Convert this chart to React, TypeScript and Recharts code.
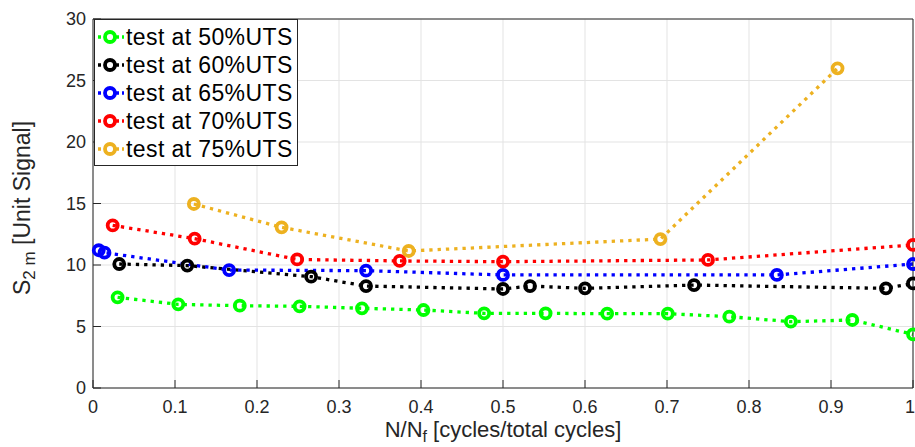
import React from 'react'
import {
  LineChart,
  Line,
  XAxis,
  YAxis,
  CartesianGrid,
  Legend,
  Label,
} from 'recharts'

// normalised life N/Nf and signal values
const x50 = [0.03, 0.104, 0.179, 0.252, 0.328, 0.403, 0.477, 0.552, 0.627, 0.701, 0.776, 0.851, 0.926, 1.0]
const y50 = [7.37, 6.8, 6.69, 6.64, 6.48, 6.34, 6.07, 6.07, 6.04, 6.04, 5.8, 5.39, 5.53, 4.36]

const x60 = [0.032, 0.115, 0.266, 0.333, 0.5, 0.533, 0.6, 0.733, 0.967, 1.0]
const y60 = [10.08, 9.95, 9.05, 8.29, 8.05, 8.29, 8.1, 8.37, 8.1, 8.5]

const x65 = [0.007, 0.014, 0.166, 0.333, 0.5, 0.834, 1.0]
const y65 = [11.2, 11.0, 9.59, 9.54, 9.19, 9.19, 10.08]

const x70 = [0.024, 0.124, 0.249, 0.374, 0.5, 0.75, 1.0]
const y70 = [13.22, 12.14, 10.45, 10.33, 10.27, 10.41, 11.63]

const x75 = [0.123, 0.23, 0.385, 0.692, 0.908]
const y75 = [14.96, 13.06, 11.14, 12.11, 25.99]

const xTicks = [0, 0.1, 0.2, 0.3, 0.4, 0.5, 0.6, 0.7, 0.8, 0.9, 1]
const yTicks = [0, 5, 10, 15, 20, 25, 30]

const toPoints = (xs: number[], ys: number[]) => xs.map((x, i) => ({ x, y: ys[i] }))

const series = [
  { name: 'test at 50%UTS', color: '#00ff00', data: toPoints(x50, y50) },
  { name: 'test at 60%UTS', color: '#000000', data: toPoints(x60, y60) },
  { name: 'test at 65%UTS', color: '#0000ff', data: toPoints(x65, y65) },
  { name: 'test at 70%UTS', color: '#ff0000', data: toPoints(x70, y70) },
  { name: 'test at 75%UTS', color: '#edb120', data: toPoints(x75, y75) },
]

const FONT = '"Liberation Sans", Arial, Helvetica, sans-serif'
const AXIS = '#262626'
const DASH = '3.3 5'

const makeDot = (color: string) => (props: any) => {
  const { cx, cy, index } = props
  if (cx == null || cy == null) return <g key={index} />
  return (
    <circle key={index} cx={cx} cy={cy} r={5} fill="none" stroke={color} strokeWidth={3.8} />
  )
}

const renderLegend = () => (
  <div
    style={{
      border: `1px solid ${AXIS}`,
      background: '#fff',
      width: 202,
      padding: '3px 0 2px 0',
      fontFamily: FONT,
    }}
  >
    {series.map((s) => (
      <div key={s.name} style={{ display: 'flex', alignItems: 'center', height: 28 }}>
        <svg width={30} height={28} style={{ marginLeft: 1 }}>
          <line x1={2} y1={14} x2={28} y2={14} stroke={s.color} strokeWidth={3.3} strokeDasharray="3 3" />
          <circle cx={14} cy={14} r={5} fill="#fff" stroke={s.color} strokeWidth={3.8} />
        </svg>
        <span
          style={{ fontSize: 23, color: '#000', lineHeight: '28px', whiteSpace: 'nowrap', letterSpacing: 0.4 }}
        >
          {s.name}
        </span>
      </div>
    ))}
  </div>
)

const XTick = (props: any) => {
  const { x, y, payload } = props
  const last = payload.value === 1
  return (
    <text
      x={last ? x - 3 : x}
      y={y}
      dy="0.71em"
      textAnchor="middle"
      fill={AXIS}
      fontSize={18}
      fontFamily={FONT}
    >
      {`${payload.value}`}
    </text>
  )
}

const XTitle = () => (
  <text x={503} y={437} textAnchor="middle" fill={AXIS} fontSize={22} fontFamily={FONT}>
    N/N
    <tspan fontSize={16} dy={5}>f</tspan>
    <tspan dy={-5}> [cycles/total cycles]</tspan>
  </text>
)

const YTitle = () => (
  <text
    x={21.5}
    y={208}
    transform="rotate(-90, 21.5, 208)"
    textAnchor="middle"
    dominantBaseline="central"
    fill={AXIS}
    fontSize={23}
    fontFamily={FONT}
  >
    S
    <tspan fontSize={17} dy={7}>2 m</tspan>
    <tspan dy={-7}> [Unit Signal]</tspan>
  </text>
)

export default function App() {
  const tickStyle = { fill: AXIS, fontSize: 18, fontFamily: FONT }
  return (
    <div style={{ width: 915, height: 447, background: '#fff', position: 'relative', fontFamily: FONT }}>
      <style>{'body{margin:0}'}</style>
      <LineChart width={915} height={447} margin={{ top: 0, right: 0, left: 0, bottom: 0 }}>
        <CartesianGrid stroke="#e3e3e3" strokeWidth={1} />

        {/* bottom axis, ticks pointing inward */}
        <XAxis
          type="number"
          dataKey="x"
          domain={[0, 1]}
          ticks={xTicks}
          interval={0}
          height={59}
          tick={<XTick />}
          tickSize={-8}
          tickMargin={20}
          stroke={AXIS}
        >
          <Label content={<XTitle />} />
        </XAxis>

        {/* top edge of the box */}
        <XAxis
          xAxisId="top"
          orientation="top"
          type="number"
          domain={[0, 1]}
          ticks={xTicks}
          interval={0}
          height={19}
          tick={false}
          tickSize={-7}
          stroke={AXIS}
        />

        <YAxis
          type="number"
          domain={[0, 30]}
          ticks={yTicks}
          interval={0}
          width={93}
          tick={tickStyle}
          tickSize={-8}
          tickMargin={15}
          stroke={AXIS}
        >
          <Label content={<YTitle />} />
        </YAxis>

        {/* right edge of the box */}
        <YAxis
          yAxisId="right"
          orientation="right"
          type="number"
          domain={[0, 30]}
          ticks={yTicks}
          interval={0}
          width={2}
          tick={false}
          tickSize={-8}
          stroke={AXIS}
        />

        {series.map((s) => (
          <Line
            key={s.name}
            data={s.data}
            dataKey="y"
            name={s.name}
            type="linear"
            stroke={s.color}
            strokeWidth={3.3}
            strokeDasharray={DASH}
            dot={makeDot(s.color)}
            activeDot={false}
            isAnimationActive={false}
          />
        ))}

        <Legend
          layout="vertical"
          align="center"
          verticalAlign="middle"
          content={renderLegend}
          wrapperStyle={{ left: 94, top: 19, width: 'auto', height: 'auto' }}
        />
      </LineChart>
    </div>
  )
}
